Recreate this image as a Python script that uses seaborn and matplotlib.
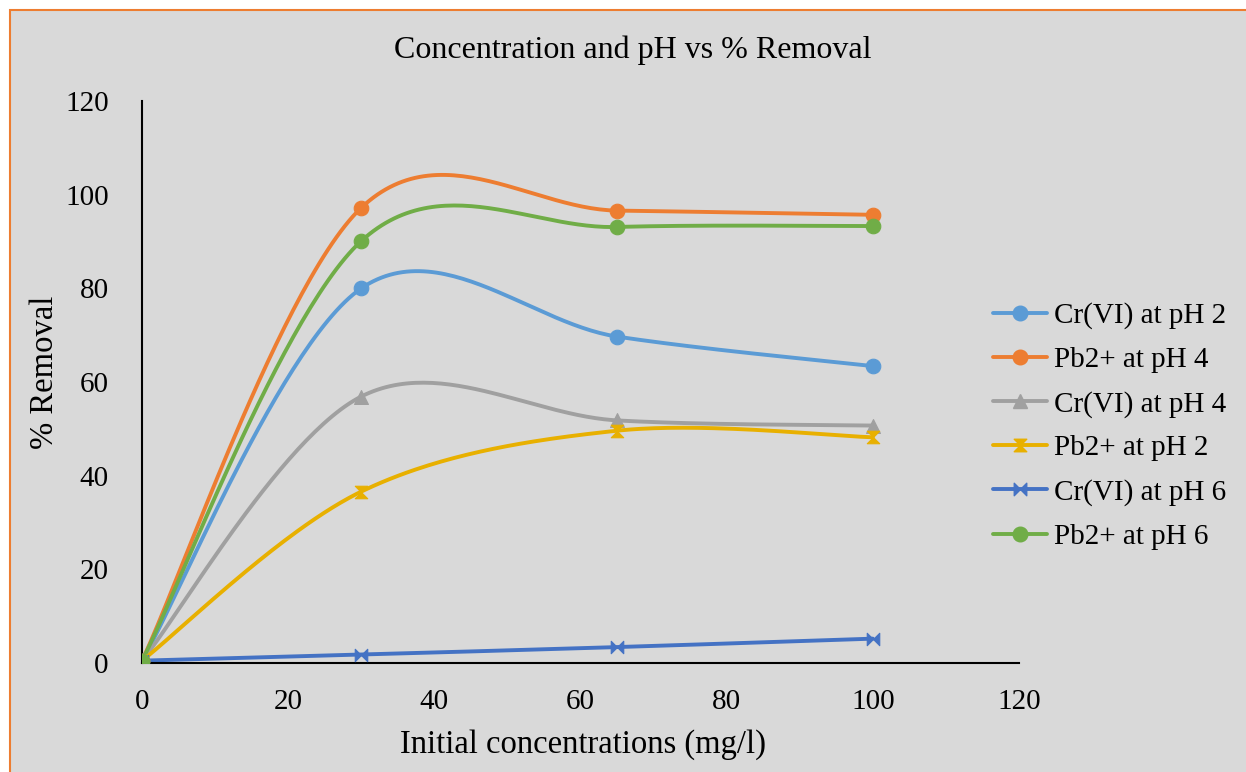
import numpy as np
import matplotlib
matplotlib.use("Agg")
import matplotlib.pyplot as plt
from matplotlib.patches import Rectangle
from matplotlib.lines import Line2D
from matplotlib.path import Path
import seaborn as sns

# Data
concentration = [0, 30, 65, 100]
cr_ph2 = [0.5, 80.0, 69.7, 63.4]
pb_ph4 = [0.5, 97.2, 96.6, 95.7]
cr_ph4 = [0.5, 56.9, 51.8, 50.7]
pb_ph2 = [0.5, 36.6, 49.6, 48.2]
cr_ph6 = [0.5, 1.8, 3.4, 5.2]
pb_ph6 = [0.5, 90.1, 93.1, 93.3]

series_names = ["Cr(VI) at pH 2", "Pb2+ at pH 4", "Cr(VI) at pH 4",
                "Pb2+ at pH 2", "Cr(VI) at pH 6", "Pb2+ at pH 6"]
series_values = [cr_ph2, pb_ph4, cr_ph4, pb_ph2, cr_ph6, pb_ph6]
colors = ["#5B9BD5", "#ED7D31", "#A0A0A0", "#E8B000", "#4472C4", "#70AD47"]

x_ticks = [0, 20, 40, 60, 80, 100, 120]
y_ticks = [0, 20, 40, 60, 80, 100, 120]

# Marker shapes
hourglass = Path([(-1, 1), (1, 1), (0, 0), (1, -1), (-1, -1), (0, 0), (-1, 1)],
                 [Path.MOVETO] + [Path.LINETO] * 5 + [Path.CLOSEPOLY])
bowtie = Path([(-1, 1), (0, 0), (1, 1), (1, -1), (0, 0), (-1, -1), (-1, 1)],
              [Path.MOVETO] + [Path.LINETO] * 5 + [Path.CLOSEPOLY])
markers = ["o", "o", "^", hourglass, bowtie, "o"]
marker_sizes = [10.5, 10.5, 10, 9, 9, 10.5]


def smooth_curve(xs, ys, n=60):
    """Catmull-Rom style cubic Bezier smoothing through every point."""
    pts = np.column_stack([xs, ys]).astype(float)
    out = []
    t = np.linspace(0, 1, n)[:, None]
    for i in range(len(pts) - 1):
        p_prev = pts[i - 1] if i > 0 else pts[i]
        p0 = pts[i]
        p1 = pts[i + 1]
        p_next = pts[i + 2] if i + 2 < len(pts) else pts[i + 1]
        c1 = p0 + (p1 - p_prev) / 6.0
        c2 = p1 - (p_next - p0) / 6.0
        seg = ((1 - t) ** 3) * p0 + 3 * ((1 - t) ** 2) * t * c1 \
            + 3 * (1 - t) * t ** 2 * c2 + t ** 3 * p1
        out.append(seg if i == 0 else seg[1:])
    seg = np.vstack(out)
    return seg[:, 0], seg[:, 1]


sns.set_theme(style="white")
plt.rcParams["font.family"] = ["Liberation Serif", "DejaVu Serif"]
plt.rcParams["text.color"] = "black"

W, H = 1246, 772
fig = plt.figure(figsize=(W / 100, H / 100), dpi=100, facecolor="white")

# Chart area background with its top/left border
fig.patches.append(Rectangle((10 / W, -0.05), 1.2, 1 - 10 / H + 0.05,
                             transform=fig.transFigure, facecolor="#D9D9D9",
                             edgecolor="#ED7D31", linewidth=1.5, zorder=-5))

ax = fig.add_axes([142 / W, 1 - 663 / H, (1019 - 142) / W, (663 - 101) / H])
ax.set_facecolor("none")
ax.set_zorder(2)

LW = 2.8
for name, vals, col, mk, ms in zip(series_names, series_values, colors,
                                    markers, marker_sizes):
    sx, sy = smooth_curve(concentration, vals)
    sns.lineplot(x=sx, y=sy, sort=False, color=col, linewidth=LW, ax=ax,
                 estimator=None, zorder=2)
    sns.scatterplot(x=concentration, y=vals, marker=mk, s=ms ** 2, color=col,
                    edgecolor=col, linewidth=0.8, ax=ax, zorder=3)

ax.set_xlim(0, 120)
ax.set_ylim(0, 120)
ax.set_xticks(x_ticks)
ax.set_yticks(y_ticks)
ax.set_xticklabels([str(v) for v in x_ticks])
ax.set_yticklabels([str(v) for v in y_ticks])
ax.tick_params(axis="both", length=0, labelsize=21, colors="black")
ax.tick_params(axis="y", pad=24)
ax.tick_params(axis="x", pad=19)

for side in ["top", "right"]:
    ax.spines[side].set_visible(False)
for side in ["left", "bottom"]:
    ax.spines[side].set_color("black")
    ax.spines[side].set_linewidth(1.5)

fig.text(633 / W, 1 - 50 / H, "Concentration and pH vs % Removal",
         ha="center", va="center", fontsize=23, color="black")
fig.text(583 / W, 1 - 745 / H, "Initial concentrations (mg/l)",
         ha="center", va="center", fontsize=23.5, color="black")
fig.text(45 / W, 1 - 372 / H, "% Removal", rotation=90,
         ha="center", va="center", fontsize=23.5, color="black")

handles = [Line2D([0], [0], color=c, linewidth=LW, marker=m, markersize=ms,
                  markeredgecolor=c, markerfacecolor=c)
           for c, m, ms in zip(colors, markers, marker_sizes)]
leg = fig.legend(handles, series_names, loc="center left",
                 bbox_to_anchor=(993 / W, 1 - 426 / H), frameon=False,
                 fontsize=21, handlelength=1.85, handletextpad=0.25,
                 labelspacing=0.6, borderpad=0, borderaxespad=0)
for txt in leg.get_texts():
    txt.set_color("black")

fig.savefig("out.png", dpi=100, facecolor="white")
